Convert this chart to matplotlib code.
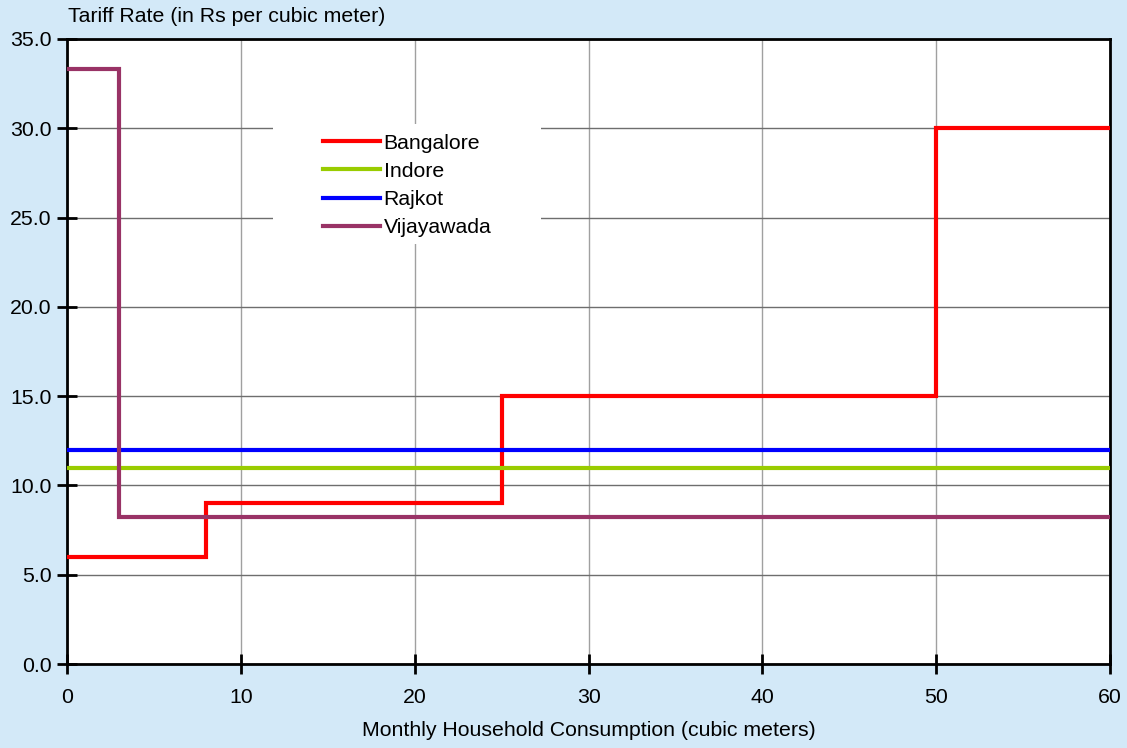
import matplotlib
matplotlib.use("Agg")
import matplotlib.pyplot as plt
from matplotlib.patches import Rectangle

plt.rcParams['font.family'] = ['Liberation Sans', 'DejaVu Sans']

# Data: tier boundaries (cubic meters) and tariff rates (Rs per cubic meter)
bangalore_x = [0, 8, 25, 50, 60]
bangalore_y = [6.0, 9.0, 15.0, 30.0, 30.0]
indore_x = [0, 60]
indore_y = [11.0, 11.0]
rajkot_x = [0, 60]
rajkot_y = [12.0, 12.0]
vijayawada_x = [0, 3, 60]
vijayawada_y = [33.3, 8.25, 8.25]

series = [
    ("Bangalore", bangalore_x, bangalore_y, "#FF0000"),
    ("Indore", indore_x, indore_y, "#99CC00"),
    ("Rajkot", rajkot_x, rajkot_y, "#0000FF"),
    ("Vijayawada", vijayawada_x, vijayawada_y, "#993366"),
]

x_ticks = [0, 10, 20, 30, 40, 50, 60]
y_ticks = [0, 5, 10, 15, 20, 25, 30, 35]

FS = 15.3
W, H = 1127, 748
L, R, T, B = 67, 1110, 39, 664
bg = "#D3E9F8"
fig = plt.figure(figsize=(W/100, H/100), dpi=100, facecolor=bg)
ax = fig.add_axes([L/W, 1 - B/H, (R-L)/W, (B-T)/H])
ax.set_facecolor("white")

def ax_pt(px, py):
    return ((px - L) / (R - L), (B - py) / (B - T))

for name, xs, ys, c in series:
    ax.step(xs, ys, where="post", color=c, lw=3.0, label=name, solid_joinstyle="miter", zorder=3)

ax.set_xlim(0, 60)
ax.set_ylim(0, 35)
ax.set_xticks(x_ticks)
ax.set_yticks(y_ticks)
ax.set_yticklabels([f"{v:.1f}" for v in y_ticks])
ax.grid(axis="y", color="#6e6e6e", lw=1.0, zorder=1)
ax.grid(axis="x", color="#a0a0a0", lw=1.0, zorder=1)
ax.tick_params(direction="inout", length=14, width=2, labelsize=FS, color="black")
ax.tick_params(axis="x", pad=10)
ax.tick_params(axis="y", pad=4)
for s in ax.spines.values():
    s.set_color("black")
    s.set_linewidth(2)

fig.text((L + (R - L) / 2) / W, 1 - 731/H, "Monthly Household Consumption (cubic meters)",
         fontsize=FS, ha="center", va="center")
fig.text(68/W, 1 - 17/H, "Tariff Rate (in Rs per cubic meter)", fontsize=FS, va="center", ha="left")

# white legend area
x0, y0 = ax_pt(273, 244)
x1, y1 = ax_pt(541, 124)
ax.add_patch(Rectangle((x0, y0), x1 - x0, y1 - y0, transform=ax.transAxes,
                       facecolor="white", edgecolor="none", zorder=2))

leg = ax.legend(loc="center left", bbox_to_anchor=ax_pt(323, 185.5), frameon=False,
                fontsize=FS, handlelength=2.7, handletextpad=0.15, labelspacing=0.43,
                borderpad=0, borderaxespad=0)
leg.set_zorder(5)

fig.savefig("out.png", dpi=100, facecolor=bg)
